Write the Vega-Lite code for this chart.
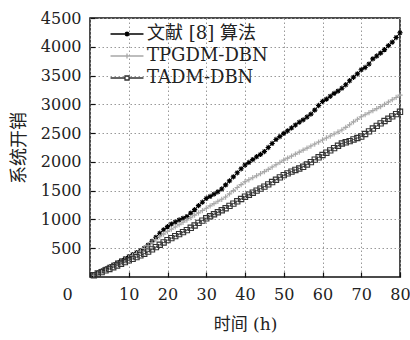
{
  "$schema": "https://vega.github.io/schema/vega-lite/v6.json",
  "width": 310,
  "height": 259,
  "autosize": {"type": "none"},
  "padding": {"left": 90, "top": 18, "right": 10, "bottom": 63},
  "background": "white",
  "config": {
    "view": {"stroke": "#111", "strokeWidth": 1.5},
    "font": "DejaVu Serif"
  },
  "data": {"values": [
    {"s":"文献 [8] 算法","h":1,"v":30},{"s":"文献 [8] 算法","h":2,"v":70},{"s":"文献 [8] 算法","h":3,"v":110},{"s":"文献 [8] 算法","h":4,"v":145},{"s":"文献 [8] 算法","h":5,"v":180},
    {"s":"文献 [8] 算法","h":6,"v":215},{"s":"文献 [8] 算法","h":7,"v":250},{"s":"文献 [8] 算法","h":8,"v":285},{"s":"文献 [8] 算法","h":9,"v":320},{"s":"文献 [8] 算法","h":10,"v":355},
    {"s":"文献 [8] 算法","h":11,"v":390},{"s":"文献 [8] 算法","h":12,"v":425},{"s":"文献 [8] 算法","h":13,"v":460},{"s":"文献 [8] 算法","h":14,"v":500},{"s":"文献 [8] 算法","h":15,"v":555},
    {"s":"文献 [8] 算法","h":16,"v":620},{"s":"文献 [8] 算法","h":17,"v":690},{"s":"文献 [8] 算法","h":18,"v":760},{"s":"文献 [8] 算法","h":19,"v":820},{"s":"文献 [8] 算法","h":20,"v":875},
    {"s":"文献 [8] 算法","h":21,"v":920},{"s":"文献 [8] 算法","h":22,"v":955},{"s":"文献 [8] 算法","h":23,"v":990},{"s":"文献 [8] 算法","h":24,"v":1020},{"s":"文献 [8] 算法","h":25,"v":1050},
    {"s":"文献 [8] 算法","h":26,"v":1110},{"s":"文献 [8] 算法","h":27,"v":1170},{"s":"文献 [8] 算法","h":28,"v":1240},{"s":"文献 [8] 算法","h":29,"v":1300},{"s":"文献 [8] 算法","h":30,"v":1365},
    {"s":"文献 [8] 算法","h":31,"v":1400},{"s":"文献 [8] 算法","h":32,"v":1440},{"s":"文献 [8] 算法","h":33,"v":1480},{"s":"文献 [8] 算法","h":34,"v":1530},{"s":"文献 [8] 算法","h":35,"v":1600},
    {"s":"文献 [8] 算法","h":36,"v":1670},{"s":"文献 [8] 算法","h":37,"v":1740},{"s":"文献 [8] 算法","h":38,"v":1810},{"s":"文献 [8] 算法","h":39,"v":1880},{"s":"文献 [8] 算法","h":40,"v":1945},
    {"s":"文献 [8] 算法","h":41,"v":1990},{"s":"文献 [8] 算法","h":42,"v":2040},{"s":"文献 [8] 算法","h":43,"v":2090},{"s":"文献 [8] 算法","h":44,"v":2130},{"s":"文献 [8] 算法","h":45,"v":2180},
    {"s":"文献 [8] 算法","h":46,"v":2250},{"s":"文献 [8] 算法","h":47,"v":2320},{"s":"文献 [8] 算法","h":48,"v":2390},{"s":"文献 [8] 算法","h":49,"v":2440},{"s":"文献 [8] 算法","h":50,"v":2495},
    {"s":"文献 [8] 算法","h":51,"v":2540},{"s":"文献 [8] 算法","h":52,"v":2590},{"s":"文献 [8] 算法","h":53,"v":2640},{"s":"文献 [8] 算法","h":54,"v":2690},{"s":"文献 [8] 算法","h":55,"v":2730},
    {"s":"文献 [8] 算法","h":56,"v":2780},{"s":"文献 [8] 算法","h":57,"v":2830},{"s":"文献 [8] 算法","h":58,"v":2900},{"s":"文献 [8] 算法","h":59,"v":2980},{"s":"文献 [8] 算法","h":60,"v":3050},
    {"s":"文献 [8] 算法","h":61,"v":3090},{"s":"文献 [8] 算法","h":62,"v":3140},{"s":"文献 [8] 算法","h":63,"v":3190},{"s":"文献 [8] 算法","h":64,"v":3230},{"s":"文献 [8] 算法","h":65,"v":3280},
    {"s":"文献 [8] 算法","h":66,"v":3340},{"s":"文献 [8] 算法","h":67,"v":3410},{"s":"文献 [8] 算法","h":68,"v":3470},{"s":"文献 [8] 算法","h":69,"v":3530},{"s":"文献 [8] 算法","h":70,"v":3600},
    {"s":"文献 [8] 算法","h":71,"v":3640},{"s":"文献 [8] 算法","h":72,"v":3700},{"s":"文献 [8] 算法","h":73,"v":3790},{"s":"文献 [8] 算法","h":74,"v":3840},{"s":"文献 [8] 算法","h":75,"v":3890},
    {"s":"文献 [8] 算法","h":76,"v":3950},{"s":"文献 [8] 算法","h":77,"v":4020},{"s":"文献 [8] 算法","h":78,"v":4080},{"s":"文献 [8] 算法","h":79,"v":4160},{"s":"文献 [8] 算法","h":80,"v":4245},

    {"s":"TPGDM-DBN","h":1,"v":30},{"s":"TPGDM-DBN","h":2,"v":65},{"s":"TPGDM-DBN","h":3,"v":100},{"s":"TPGDM-DBN","h":4,"v":135},{"s":"TPGDM-DBN","h":5,"v":170},
    {"s":"TPGDM-DBN","h":6,"v":205},{"s":"TPGDM-DBN","h":7,"v":240},{"s":"TPGDM-DBN","h":8,"v":270},{"s":"TPGDM-DBN","h":9,"v":305},{"s":"TPGDM-DBN","h":10,"v":340},
    {"s":"TPGDM-DBN","h":11,"v":375},{"s":"TPGDM-DBN","h":12,"v":410},{"s":"TPGDM-DBN","h":13,"v":450},{"s":"TPGDM-DBN","h":14,"v":495},{"s":"TPGDM-DBN","h":15,"v":540},
    {"s":"TPGDM-DBN","h":16,"v":595},{"s":"TPGDM-DBN","h":17,"v":650},{"s":"TPGDM-DBN","h":18,"v":700},{"s":"TPGDM-DBN","h":19,"v":745},{"s":"TPGDM-DBN","h":20,"v":790},
    {"s":"TPGDM-DBN","h":21,"v":830},{"s":"TPGDM-DBN","h":22,"v":870},{"s":"TPGDM-DBN","h":23,"v":910},{"s":"TPGDM-DBN","h":24,"v":950},{"s":"TPGDM-DBN","h":25,"v":990},
    {"s":"TPGDM-DBN","h":26,"v":1030},{"s":"TPGDM-DBN","h":27,"v":1075},{"s":"TPGDM-DBN","h":28,"v":1115},{"s":"TPGDM-DBN","h":29,"v":1155},{"s":"TPGDM-DBN","h":30,"v":1195},
    {"s":"TPGDM-DBN","h":31,"v":1235},{"s":"TPGDM-DBN","h":32,"v":1275},{"s":"TPGDM-DBN","h":33,"v":1315},{"s":"TPGDM-DBN","h":34,"v":1350},{"s":"TPGDM-DBN","h":35,"v":1390},
    {"s":"TPGDM-DBN","h":36,"v":1445},{"s":"TPGDM-DBN","h":37,"v":1500},{"s":"TPGDM-DBN","h":38,"v":1555},{"s":"TPGDM-DBN","h":39,"v":1605},{"s":"TPGDM-DBN","h":40,"v":1655},
    {"s":"TPGDM-DBN","h":41,"v":1690},{"s":"TPGDM-DBN","h":42,"v":1725},{"s":"TPGDM-DBN","h":43,"v":1760},{"s":"TPGDM-DBN","h":44,"v":1795},{"s":"TPGDM-DBN","h":45,"v":1830},
    {"s":"TPGDM-DBN","h":46,"v":1870},{"s":"TPGDM-DBN","h":47,"v":1910},{"s":"TPGDM-DBN","h":48,"v":1950},{"s":"TPGDM-DBN","h":49,"v":1990},{"s":"TPGDM-DBN","h":50,"v":2030},
    {"s":"TPGDM-DBN","h":51,"v":2065},{"s":"TPGDM-DBN","h":52,"v":2100},{"s":"TPGDM-DBN","h":53,"v":2135},{"s":"TPGDM-DBN","h":54,"v":2170},{"s":"TPGDM-DBN","h":55,"v":2205},
    {"s":"TPGDM-DBN","h":56,"v":2240},{"s":"TPGDM-DBN","h":57,"v":2275},{"s":"TPGDM-DBN","h":58,"v":2310},{"s":"TPGDM-DBN","h":59,"v":2345},{"s":"TPGDM-DBN","h":60,"v":2380},
    {"s":"TPGDM-DBN","h":61,"v":2415},{"s":"TPGDM-DBN","h":62,"v":2450},{"s":"TPGDM-DBN","h":63,"v":2485},{"s":"TPGDM-DBN","h":64,"v":2520},{"s":"TPGDM-DBN","h":65,"v":2555},
    {"s":"TPGDM-DBN","h":66,"v":2600},{"s":"TPGDM-DBN","h":67,"v":2645},{"s":"TPGDM-DBN","h":68,"v":2695},{"s":"TPGDM-DBN","h":69,"v":2740},{"s":"TPGDM-DBN","h":70,"v":2785},
    {"s":"TPGDM-DBN","h":71,"v":2820},{"s":"TPGDM-DBN","h":72,"v":2855},{"s":"TPGDM-DBN","h":73,"v":2890},{"s":"TPGDM-DBN","h":74,"v":2925},{"s":"TPGDM-DBN","h":75,"v":2960},
    {"s":"TPGDM-DBN","h":76,"v":3000},{"s":"TPGDM-DBN","h":77,"v":3040},{"s":"TPGDM-DBN","h":78,"v":3080},{"s":"TPGDM-DBN","h":79,"v":3120},{"s":"TPGDM-DBN","h":80,"v":3160},

    {"s":"TADM-DBN","h":1,"v":30},{"s":"TADM-DBN","h":2,"v":60},{"s":"TADM-DBN","h":3,"v":85},{"s":"TADM-DBN","h":4,"v":115},{"s":"TADM-DBN","h":5,"v":140},
    {"s":"TADM-DBN","h":6,"v":170},{"s":"TADM-DBN","h":7,"v":200},{"s":"TADM-DBN","h":8,"v":230},{"s":"TADM-DBN","h":9,"v":260},{"s":"TADM-DBN","h":10,"v":290},
    {"s":"TADM-DBN","h":11,"v":315},{"s":"TADM-DBN","h":12,"v":345},{"s":"TADM-DBN","h":13,"v":375},{"s":"TADM-DBN","h":14,"v":405},{"s":"TADM-DBN","h":15,"v":440},
    {"s":"TADM-DBN","h":16,"v":480},{"s":"TADM-DBN","h":17,"v":520},{"s":"TADM-DBN","h":18,"v":560},{"s":"TADM-DBN","h":19,"v":600},{"s":"TADM-DBN","h":20,"v":640},
    {"s":"TADM-DBN","h":21,"v":675},{"s":"TADM-DBN","h":22,"v":710},{"s":"TADM-DBN","h":23,"v":745},{"s":"TADM-DBN","h":24,"v":780},{"s":"TADM-DBN","h":25,"v":815},
    {"s":"TADM-DBN","h":26,"v":855},{"s":"TADM-DBN","h":27,"v":895},{"s":"TADM-DBN","h":28,"v":940},{"s":"TADM-DBN","h":29,"v":980},{"s":"TADM-DBN","h":30,"v":1020},
    {"s":"TADM-DBN","h":31,"v":1055},{"s":"TADM-DBN","h":32,"v":1090},{"s":"TADM-DBN","h":33,"v":1125},{"s":"TADM-DBN","h":34,"v":1160},{"s":"TADM-DBN","h":35,"v":1195},
    {"s":"TADM-DBN","h":36,"v":1235},{"s":"TADM-DBN","h":37,"v":1275},{"s":"TADM-DBN","h":38,"v":1315},{"s":"TADM-DBN","h":39,"v":1355},{"s":"TADM-DBN","h":40,"v":1395},
    {"s":"TADM-DBN","h":41,"v":1430},{"s":"TADM-DBN","h":42,"v":1465},{"s":"TADM-DBN","h":43,"v":1500},{"s":"TADM-DBN","h":44,"v":1535},{"s":"TADM-DBN","h":45,"v":1570},
    {"s":"TADM-DBN","h":46,"v":1610},{"s":"TADM-DBN","h":47,"v":1650},{"s":"TADM-DBN","h":48,"v":1690},{"s":"TADM-DBN","h":49,"v":1730},{"s":"TADM-DBN","h":50,"v":1770},
    {"s":"TADM-DBN","h":51,"v":1800},{"s":"TADM-DBN","h":52,"v":1830},{"s":"TADM-DBN","h":53,"v":1860},{"s":"TADM-DBN","h":54,"v":1885},{"s":"TADM-DBN","h":55,"v":1915},
    {"s":"TADM-DBN","h":56,"v":1955},{"s":"TADM-DBN","h":57,"v":1995},{"s":"TADM-DBN","h":58,"v":2040},{"s":"TADM-DBN","h":59,"v":2080},{"s":"TADM-DBN","h":60,"v":2120},
    {"s":"TADM-DBN","h":61,"v":2160},{"s":"TADM-DBN","h":62,"v":2200},{"s":"TADM-DBN","h":63,"v":2240},{"s":"TADM-DBN","h":64,"v":2280},{"s":"TADM-DBN","h":65,"v":2320},
    {"s":"TADM-DBN","h":66,"v":2340},{"s":"TADM-DBN","h":67,"v":2360},{"s":"TADM-DBN","h":68,"v":2390},{"s":"TADM-DBN","h":69,"v":2415},{"s":"TADM-DBN","h":70,"v":2440},
    {"s":"TADM-DBN","h":71,"v":2485},{"s":"TADM-DBN","h":72,"v":2530},{"s":"TADM-DBN","h":73,"v":2580},{"s":"TADM-DBN","h":74,"v":2625},{"s":"TADM-DBN","h":75,"v":2670},
    {"s":"TADM-DBN","h":76,"v":2710},{"s":"TADM-DBN","h":77,"v":2750},{"s":"TADM-DBN","h":78,"v":2790},{"s":"TADM-DBN","h":79,"v":2830},{"s":"TADM-DBN","h":80,"v":2870}
  ]},
  "encoding": {
    "x": {
      "field": "h", "type": "quantitative",
      "scale": {"domain": [0, 80], "nice": false},
      "axis": {
        "values": [0, 10, 20, 30, 40, 50, 60, 70, 80],
        "format": "d",
        "title": "时间 (h)",
        "titleFont": "DejaVu Serif, Noto Sans CJK SC",
        "titleFontSize": 17, "titleFontWeight": "normal", "titleColor": "#222",
        "titlePadding": 14,
        "labelFont": "DejaVu Serif", "labelFontSize": 16, "labelColor": "#222",
        "labelPadding": 14,
        "labelOffset": {"condition": {"test": "datum.value == 0", "value": -23}, "value": 0},
        "labelFlush": false,
        "domain": false,
        "tickSize": -5, "tickColor": "#111", "tickWidth": 1.2,
        "grid": true, "gridColor": "#999", "gridDash": [1.5, 2.5], "gridWidth": 1, "gridOpacity": 1
      }
    },
    "y": {
      "field": "v", "type": "quantitative",
      "scale": {"domain": [0, 4500], "nice": false},
      "axis": {
        "values": [500, 1000, 1500, 2000, 2500, 3000, 3500, 4000, 4500],
        "format": "d",
        "title": "系统开销",
        "titleFont": "Noto Sans CJK SC",
        "titleFontSize": 18, "titleFontWeight": "normal", "titleColor": "#222",
        "titlePadding": 12,
        "labelFont": "DejaVu Serif", "labelFontSize": 16, "labelColor": "#222",
        "labelPadding": 14,
        "labelFlush": false,
        "domain": false,
        "tickSize": -5, "tickColor": "#111", "tickWidth": 1.2,
        "grid": true, "gridColor": "#999", "gridDash": [1.5, 2.5], "gridWidth": 1, "gridOpacity": 1
      }
    }
  },
  "layer": [
    {
      "mark": {"type": "line", "strokeWidth": 1},
      "encoding": {
        "color": {"field": "s", "type": "nominal", "legend": null,
          "scale": {"domain": ["文献 [8] 算法", "TPGDM-DBN", "TADM-DBN"], "range": ["#000000", "#a8a8a8", "#333333"]}},
        "detail": {"field": "s"}
      }
    },
    {
      "mark": {"type": "point", "filled": false, "strokeWidth": 1.1, "opacity": 1},
      "encoding": {
        "color": {"field": "s", "type": "nominal", "legend": null,
          "scale": {"domain": ["文献 [8] 算法", "TPGDM-DBN", "TADM-DBN"], "range": ["#000000", "#a8a8a8", "#333333"]}},
        "shape": {"field": "s", "type": "nominal", "legend": null,
          "scale": {"domain": ["文献 [8] 算法", "TPGDM-DBN", "TADM-DBN"],
            "range": ["M-1,0H1M0,-1V1M-0.7,-0.7L0.7,0.7M-0.7,0.7L0.7,-0.7", "M-1,0H1M0,-1V1", "square"]}},
        "size": {"value": 28}
      }
    },
    {
      "mark": {"type": "point", "filled": false, "opacity": 0, "strokeWidth": 1.2},
      "encoding": {
        "color": {"field": "s", "type": "nominal",
          "scale": {"domain": ["文献 [8] 算法", "TPGDM-DBN", "TADM-DBN"], "range": ["#000000", "#a8a8a8", "#333333"]},
          "legend": {
            "title": null, "orient": "none", "legendX": 28, "legendY": 7,
            "labelFont": "DejaVu Serif, Noto Sans CJK SC", "labelFontSize": 18, "labelColor": "#222",
            "symbolSize": 256, "symbolOpacity": 1, "symbolStrokeWidth": 1.3,
            "symbolFillColor": "transparent",
            "rowPadding": 4, "labelOffset": 11, "padding": 0
          }},
        "shape": {"field": "s", "type": "nominal",
          "scale": {"domain": ["文献 [8] 算法", "TPGDM-DBN", "TADM-DBN"],
            "range": [
              "M-2.06,0H2.06M-0.3,0H0.3M0,-0.3V0.3M-0.22,-0.22L0.22,0.22M-0.22,0.22L0.22,-0.22",
              "M-2.06,0H2.06M0,-0.3V0.3",
              "M-2.06,0H-0.25M0.25,0H2.06M-0.25,-0.25H0.25V0.25H-0.25Z"
            ]},
          "legend": {
            "title": null, "orient": "none", "legendX": 28, "legendY": 7,
            "labelFont": "DejaVu Serif, Noto Sans CJK SC", "labelFontSize": 18, "labelColor": "#222",
            "symbolSize": 256, "symbolOpacity": 1, "symbolStrokeWidth": 1.3,
            "symbolFillColor": "transparent",
            "rowPadding": 4, "labelOffset": 11, "padding": 0
          }}
      }
    }
  ],
  "resolve": {"scale": {"color": "independent", "shape": "independent"}}
}
